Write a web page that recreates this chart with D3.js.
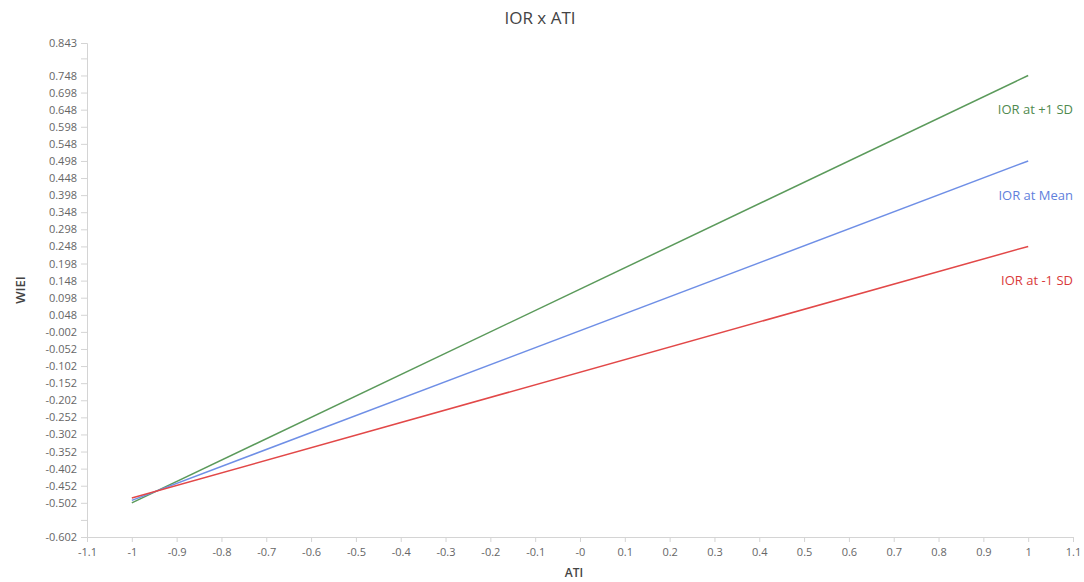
<!DOCTYPE html>
<html>
<head>
<meta charset="utf-8">
<script src="https://cdn.jsdelivr.net/npm/d3@7"></script>
<style>
  html, body { margin: 0; padding: 0; background: #fff; }
  svg { display: block; font-family: "Open Sans", "Noto Sans", sans-serif; }
</style>
</head>
<body>
<svg id="chart" width="1084" height="582"></svg>
<script>
// Simple slopes of WIEI on ATI at three levels of IOR
const seriesNames = ["IOR at +1 SD", "IOR at Mean", "IOR at -1 SD"];
const seriesColors = ["#5b9a5b", "#6f8fe6", "#e24848"];
const labelColors = ["#4f8a4f", "#5f80dc", "#d93a3a"];
const atiValues = [-1, 1];
const wieiPlus1SD = [-0.502, 0.748];
const wieiMean = [-0.495, 0.498];
const wieiMinus1SD = [-0.488, 0.248];

const xTicks = [-1.1, -1, -0.9, -0.8, -0.7, -0.6, -0.5, -0.4, -0.3, -0.2, -0.1, 0, 0.1, 0.2, 0.3, 0.4, 0.5, 0.6, 0.7, 0.8, 0.9, 1, 1.1];
const xTickLabels = ["-1.1", "-1", "-0.9", "-0.8", "-0.7", "-0.6", "-0.5", "-0.4", "-0.3", "-0.2", "-0.1", "-0", "0.1", "0.2", "0.3", "0.4", "0.5", "0.6", "0.7", "0.8", "0.9", "1", "1.1"];
const yTicks = [0.843, 0.798, 0.748, 0.698, 0.648, 0.598, 0.548, 0.498, 0.448, 0.398, 0.348, 0.298, 0.248, 0.198, 0.148, 0.098, 0.048, -0.002, -0.052, -0.102, -0.152, -0.202, -0.252, -0.302, -0.352, -0.402, -0.452, -0.502, -0.552, -0.602];
const yTickLabels = ["0.843", "", "0.748", "0.698", "0.648", "0.598", "0.548", "0.498", "0.448", "0.398", "0.348", "0.298", "0.248", "0.198", "0.148", "0.098", "0.048", "-0.002", "-0.052", "-0.102", "-0.152", "-0.202", "-0.252", "-0.302", "-0.352", "-0.402", "-0.452", "-0.502", "", "-0.602"];

const seriesValues = [wieiPlus1SD, wieiMean, wieiMinus1SD];

const svg = d3.select("#chart");
const margin = { left: 87, right: 11, top: 43, bottom: 45 };
const W = 1084, H = 582;

const x = d3.scaleLinear().domain([-1.1, 1.1]).range([margin.left, W - margin.right]);
const y = d3.scaleLinear().domain([-0.602, 0.843]).range([H - margin.bottom, margin.top]);

const axisColor = "#d4d4d4";
const tickTextColor = "#666";

// x axis
const xAxis = svg.append("g")
  .attr("transform", `translate(0,${H - margin.bottom})`)
  .call(d3.axisBottom(x).tickValues(xTicks).tickSize(5).tickPadding(6)
    .tickFormat((d, i) => xTickLabels[i]));
// y axis
const yAxis = svg.append("g")
  .attr("transform", `translate(${margin.left},0)`)
  .call(d3.axisLeft(y).tickValues(yTicks).tickSize(6).tickPadding(4)
    .tickFormat((d, i) => yTickLabels[i]));

[xAxis, yAxis].forEach(g => {
  g.select(".domain").attr("stroke", axisColor);
  g.selectAll(".tick line").attr("stroke", axisColor);
  g.selectAll(".tick text").attr("fill", tickTextColor)
    .style("font-size", "11px").style("font-family", "'Open Sans', sans-serif");
});

// lines
const line = d3.line().x(d => x(d[0])).y(d => y(d[1]));
seriesValues.forEach((vals, i) => {
  svg.append("path")
    .datum(atiValues.map((a, j) => [a, vals[j]]))
    .attr("fill", "none")
    .attr("stroke", seriesColors[i])
    .attr("stroke-width", 1.5)
    .attr("d", line);
});

// series labels under the line ends
seriesValues.forEach((vals, i) => {
  svg.append("text")
    .attr("x", x(1.1))
    .attr("y", y(vals[1]) + 39)
    .attr("text-anchor", "end")
    .attr("fill", labelColors[i])
    .style("font-size", "13px")
    .style("font-family", "'Open Sans', sans-serif")
    .text(seriesNames[i]);
});

// title
svg.append("text")
  .attr("x", 540).attr("y", 24)
  .attr("text-anchor", "middle")
  .attr("fill", "#444")
  .style("font-size", "17px")
  .style("font-family", "'Open Sans', sans-serif")
  .text("IOR x ATI");

// axis titles
svg.append("text")
  .attr("x", (x.range()[0] + x.range()[1]) / 2 - 6).attr("y", 577)
  .attr("text-anchor", "middle")
  .attr("fill", "#444")
  .style("font-size", "12px")
  .style("font-weight", "600")
  .style("font-family", "'Open Sans', sans-serif")
  .text("ATI");

svg.append("text")
  .attr("transform", `translate(25,${(y.range()[0] + y.range()[1]) / 2}) rotate(-90)`)
  .attr("text-anchor", "middle")
  .attr("fill", "#444")
  .style("font-size", "13px")
  .style("font-weight", "600")
  .style("font-family", "'Open Sans', sans-serif")
  .text("WIEI");
</script>
</body>
</html>
